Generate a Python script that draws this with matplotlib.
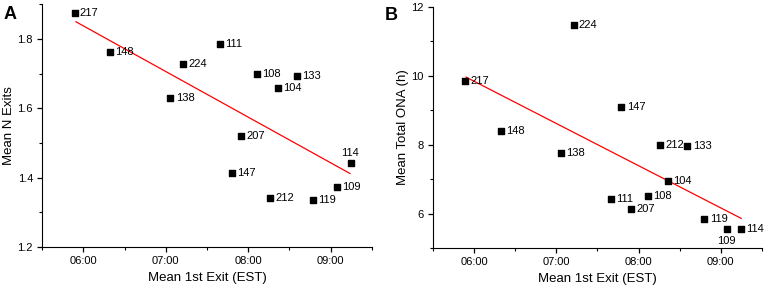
import numpy as np
import matplotlib.pyplot as plt
from matplotlib.ticker import MultipleLocator, FuncFormatter

plt.rcParams["font.family"] = ["Liberation Sans", "DejaVu Sans"]

# subject ids (same order in both panels)
ids = ["217", "148", "224", "111", "138", "108", "133", "104",
       "207", "147", "212", "119", "109", "114"]

# mean first exit, decimal hours (EST)
exit_a = [5.895, 6.324, 7.208, 7.658, 7.058, 8.108, 8.594, 8.363,
          7.913, 7.800, 8.262, 8.789, 9.081, 9.247]
n_exits = [1.875, 1.761, 1.727, 1.786, 1.629, 1.700, 1.692, 1.658,
           1.519, 1.413, 1.342, 1.335, 1.373, 1.441]

exit_b = [5.890, 6.322, 7.209, 7.661, 7.058, 8.112, 8.593, 8.361,
          7.909, 7.791, 8.259, 8.800, 9.081, 9.248]
total_ona = [9.84, 8.41, 11.49, 6.42, 7.77, 6.52, 7.97, 6.94,
             6.15, 9.11, 8.00, 5.84, 5.56, 5.57]

# fitted line endpoints
line_a_x = [5.911, 9.235]
line_a_y = [1.849, 1.412]
line_b_x = [5.902, 9.248]
line_b_y = [9.965, 5.865]


def hhmm(v, pos):
    return f"{int(round(v)):02d}:00"


fig = plt.figure(figsize=(7.65, 2.92), dpi=100)
ax1 = fig.add_axes([0.055, 0.154, 0.431, 0.832])
ax2 = fig.add_axes([0.566, 0.150, 0.430, 0.826])

LBL = 8.0


def style(ax):
    for s in ["top", "right"]:
        ax.spines[s].set_visible(False)
    ax.xaxis.set_major_locator(MultipleLocator(1))
    ax.xaxis.set_minor_locator(MultipleLocator(0.5))
    ax.xaxis.set_major_formatter(FuncFormatter(hhmm))
    ax.tick_params(which="major", direction="out", length=3.5, width=0.9,
                   labelsize=8, pad=3)
    ax.tick_params(which="minor", direction="out", length=2, width=0.8)
    ax.set_xlim(5.5, 9.5)
    ax.set_xlabel("Mean 1st Exit (EST)", fontsize=9.5, labelpad=4)


def point_labels(ax, xs, ys, special, off):
    for i, lab in enumerate(ids):
        if lab == special:
            ax.annotate(lab, (xs[i], ys[i]), xytext=off,
                        textcoords="offset points", fontsize=LBL,
                        ha="center", va="center")
        else:
            ax.annotate(lab, (xs[i], ys[i]), xytext=(3.8, 0),
                        textcoords="offset points", fontsize=LBL,
                        ha="left", va="center")


# ---- panel A ----
ax1.scatter(exit_a, n_exits, marker="s", s=13, color="black", zorder=3)
ax1.plot(line_a_x, line_a_y, color="red", lw=0.9)
point_labels(ax1, exit_a, n_exits, "114", (-1, 7.5))
style(ax1)
ax1.set_ylim(1.2, 1.9)
ax1.yaxis.set_major_locator(MultipleLocator(0.2))
ax1.yaxis.set_minor_locator(MultipleLocator(0.1))
ax1.yaxis.set_major_formatter(FuncFormatter(lambda v, p: f"{v:.1f}"))
ax1.set_ylabel("Mean N Exits", fontsize=9.5, labelpad=2)
fig.text(0.005, 0.935, "A", fontsize=13, fontweight="bold")

# ---- panel B ----
ax2.scatter(exit_b, total_ona, marker="s", s=13, color="black", zorder=3)
ax2.plot(line_b_x, line_b_y, color="red", lw=0.9)
point_labels(ax2, exit_b, total_ona, "109", (-1, -8.5))
style(ax2)
ax2.set_ylim(5, 12)
ax2.yaxis.set_major_locator(MultipleLocator(2))
ax2.yaxis.set_minor_locator(MultipleLocator(1))
ax2.set_ylabel("Mean Total ONA (h)", fontsize=9.5, labelpad=2)
fig.text(0.503, 0.93, "B", fontsize=13, fontweight="bold")

fig.savefig("out.png", dpi=100)
